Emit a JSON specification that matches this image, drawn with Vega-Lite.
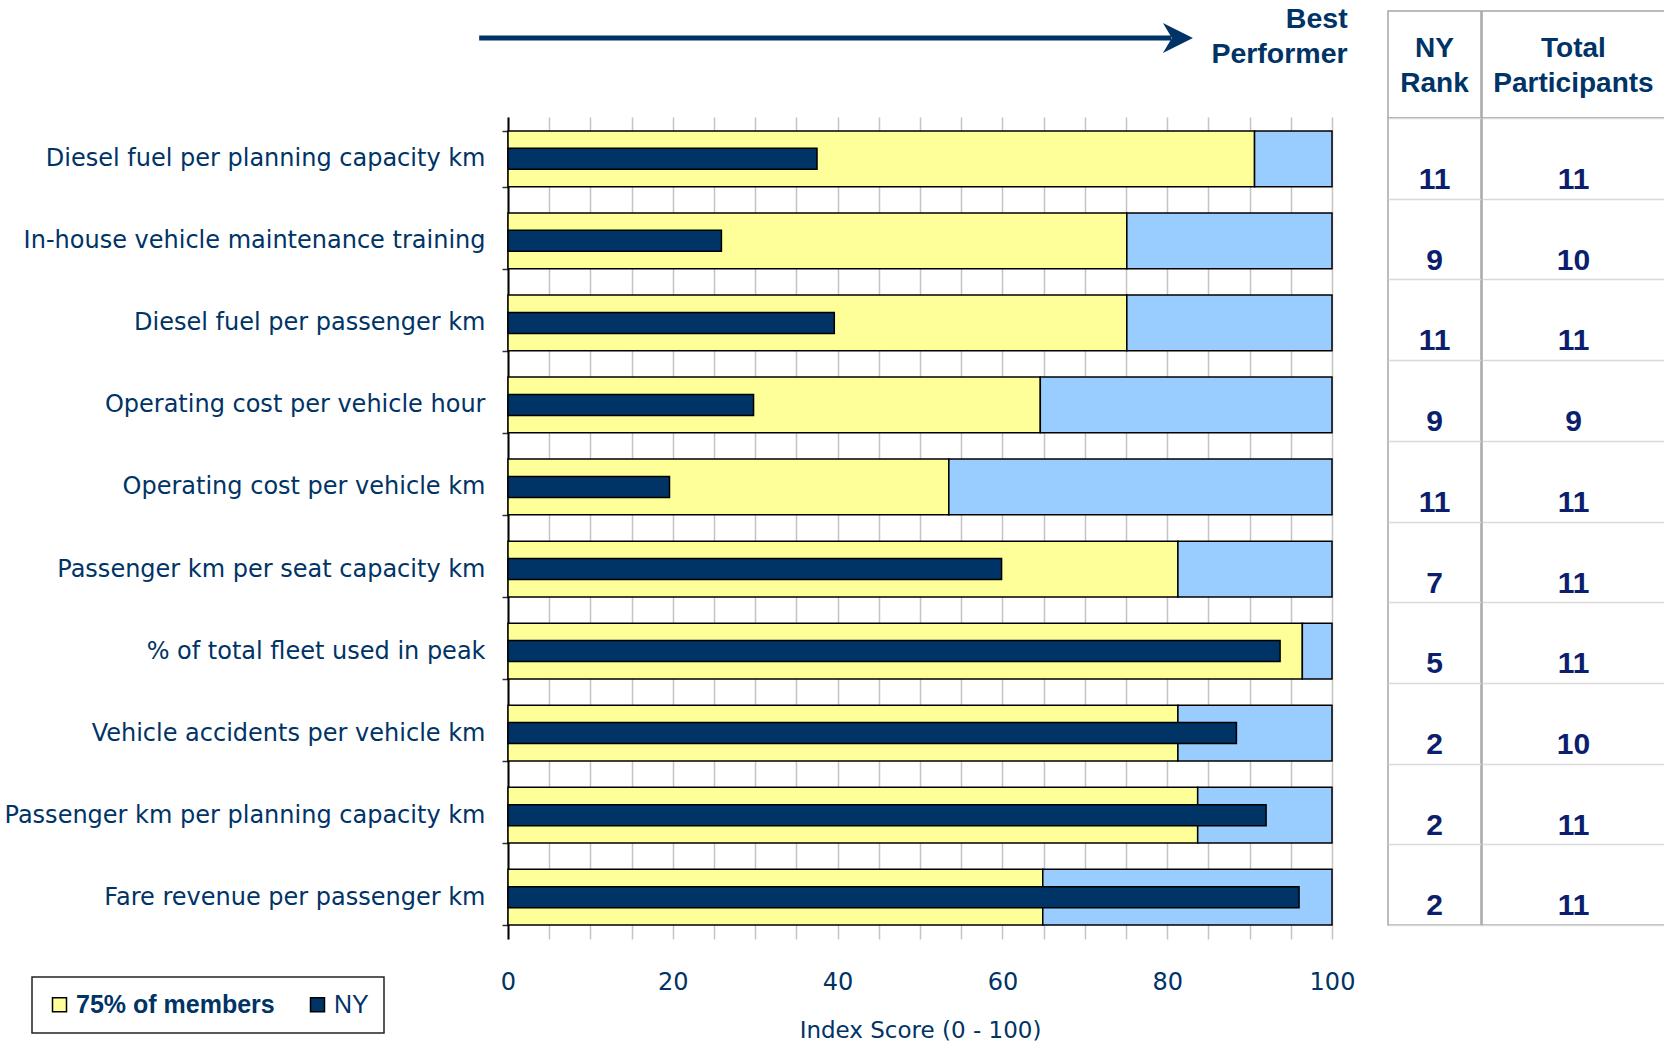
{
  "$schema": "https://vega.github.io/schema/vega-lite/v6.json",
  "background": "white",
  "padding": {"left": 4, "top": 4, "right": 0, "bottom": 0},
  "bounds": "full",
  "spacing": 32,
  "datasets": {
    "rows": [
      {"metric": "Diesel fuel per planning capacity km", "p75": 90.6, "ny": 37.5, "best": 100, "rank": 11, "total": 11},
      {"metric": "In-house vehicle maintenance training", "p75": 75.1, "ny": 25.9, "best": 100, "rank": 9, "total": 10},
      {"metric": "Diesel fuel per passenger km", "p75": 75.1, "ny": 39.6, "best": 100, "rank": 11, "total": 11},
      {"metric": "Operating cost per vehicle hour", "p75": 64.6, "ny": 29.8, "best": 100, "rank": 9, "total": 9},
      {"metric": "Operating cost per vehicle km", "p75": 53.5, "ny": 19.6, "best": 100, "rank": 11, "total": 11},
      {"metric": "Passenger km per seat capacity km", "p75": 81.3, "ny": 59.9, "best": 100, "rank": 7, "total": 11},
      {"metric": "% of total fleet used in peak", "p75": 96.4, "ny": 93.7, "best": 100, "rank": 5, "total": 11},
      {"metric": "Vehicle accidents per vehicle km", "p75": 81.3, "ny": 88.4, "best": 100, "rank": 2, "total": 10},
      {"metric": "Passenger km per planning capacity km", "p75": 83.7, "ny": 92.0, "best": 100, "rank": 2, "total": 11},
      {"metric": "Fare revenue per passenger km", "p75": 64.9, "ny": 96.0, "best": 100, "rank": 2, "total": 11}
    ]
  },
  "hconcat": [
    {
      "vconcat": [
        {
          "width": 824,
          "height": 106,
          "view": {"stroke": null},
          "data": {"values": [{}]},
          "layer": [
            {
              "mark": {"type": "rule", "color": "#003366", "strokeWidth": 5},
              "encoding": {
                "x": {"datum": -3.5, "type": "quantitative", "scale": {"domain": [0, 100], "nice": false, "zero": false}, "axis": null},
                "x2": {"datum": 80.5},
                "y": {"datum": 0.745, "type": "quantitative", "scale": {"domain": [0, 1], "nice": false}, "axis": null}
              }
            },
            {
              "mark": {"type": "point", "shape": "M-1,-1L1,0L-1,1L-0.4,0Z", "filled": true, "color": "#003366", "opacity": 1, "size": 900},
              "encoding": {
                "x": {"datum": 81.3, "type": "quantitative"},
                "y": {"datum": 0.745, "type": "quantitative"}
              }
            },
            {
              "mark": {"type": "text", "text": "Best\nPerformer", "lineBreak": "\n", "align": "right", "baseline": "alphabetic", "font": "Liberation Sans", "fontWeight": "bold", "fontSize": 28.5, "lineHeight": 35, "color": "#003366"},
              "encoding": {
                "x": {"datum": 101.9, "type": "quantitative"},
                "y": {"datum": 0.84, "type": "quantitative"}
              }
            }
          ]
        },
        {
          "width": 824,
          "height": 822,
          "view": {"stroke": null},
          "data": {"name": "rows"},
          "encoding": {
            "y": {
              "field": "metric",
              "type": "nominal",
              "sort": null,
              "scale": {"paddingInner": 0.32, "paddingOuter": 0.17},
              "axis": {
                "title": null,
                "labelFont": "DejaVu Sans",
                "labelFontSize": 24,
                "labelColor": "#003366",
                "labelPadding": 17,
                "labelLimit": 700,
                "tickBand": "extent",
                "tickSize": 6,
                "tickColor": "#333333",
                "tickWidth": 1.5,
                "domainColor": "#000000",
                "domainWidth": 2,
                "grid": false
              }
            }
          },
          "layer": [
            {
              "mark": {"type": "bar", "stroke": "#000000", "strokeWidth": 1.5},
              "encoding": {
                "x": {
                  "field": "p75",
                  "type": "quantitative",
                  "stack": null,
                  "scale": {"domain": [0, 100], "nice": false},
                  "axis": {
                    "values": [0, 5, 10, 15, 20, 25, 30, 35, 40, 45, 50, 55, 60, 65, 70, 75, 80, 85, 90, 95, 100],
                    "labelExpr": "datum.value % 20 === 0 ? datum.label : ''",
                    "labelOverlap": false,
                    "labelFlush": false,
                    "grid": true,
                    "gridColor": "#c4c4c4",
                    "gridWidth": 1.5,
                    "ticks": false,
                    "tickSize": 0,
                    "domain": false,
                    "labelFont": "DejaVu Sans",
                    "labelFontSize": 24,
                    "labelColor": "#003366",
                    "labelPadding": 31,
                    "title": "Index Score (0 - 100)",
                    "titleFont": "DejaVu Sans",
                    "titleFontSize": 23,
                    "titleFontWeight": "normal",
                    "titleColor": "#003366",
                    "titlePadding": 25
                  }
                },
                "color": {
                  "datum": "75% of members",
                  "type": "nominal",
                  "scale": {"domain": ["75% of members", "NY"], "range": ["#FFFF99", "#003366"]},
                  "legend": {
                    "title": null,
                    "orient": "none",
                    "legendX": -476,
                    "legendY": 966,
                    "direction": "horizontal",
                    "columns": 2,
                    "symbolType": "square",
                    "symbolSize": 196,
                    "symbolStrokeColor": "#000000",
                    "symbolStrokeWidth": 1.5,
                    "symbolOpacity": 1,
                    "labelFont": "Liberation Sans",
                    "labelFontSize": 25,
                    "labelColor": "#003366",
                    "labelLimit": 500,
                    "labelOffset": 4,
                    "columnPadding": 30,
                    "padding": 15,
                    "strokeColor": "#222222",
                    "fillColor": "#ffffff",
                    "encode": {
                      "labels": {"update": {"fontWeight": {"signal": "datum.label === 'NY' ? 'normal' : 'bold'"}}},
                      "legend": {"update": {"strokeWidth": {"value": 1.5}}}
                    }
                  }
                }
              }
            },
            {
              "mark": {"type": "bar", "fill": "#99CCFF", "stroke": "#000000", "strokeWidth": 1.5},
              "encoding": {
                "x": {"field": "p75", "type": "quantitative"},
                "x2": {"field": "best"}
              }
            },
            {
              "mark": {"type": "bar", "size": 21, "stroke": "#000000", "strokeWidth": 1.5},
              "encoding": {
                "x": {"field": "ny", "type": "quantitative", "stack": null},
                "color": {"datum": "NY", "type": "nominal"}
              }
            }
          ]
        }
      ],
      "spacing": 0,
      "bounds": "flush"
    },
    {
      "hconcat": [
        {
          "vconcat": [
            {
              "width": 93,
              "height": 107,
              "view": {"stroke": "#a6a6a6", "strokeWidth": 1.5},
              "data": {"values": [{}]},
              "mark": {"type": "text", "text": "NY\nRank", "lineBreak": "\n", "align": "center", "baseline": "middle", "dy": -16, "font": "Liberation Sans", "fontWeight": "bold", "fontSize": 28, "lineHeight": 35, "color": "#003366"}
            },
            {
              "width": 93,
              "height": 807,
              "view": {"stroke": "#a6a6a6", "strokeWidth": 1.5},
              "data": {"name": "rows"},
              "mark": {"type": "text", "align": "center", "baseline": "alphabetic", "font": "Liberation Sans", "fontWeight": "bold", "fontSize": 30, "color": "#0B1F6E"},
              "encoding": {
                "y": {
                  "field": "metric", "type": "nominal", "sort": null, "bandPosition": 0.88,
                  "scale": {"type": "band", "paddingInner": 0, "paddingOuter": 0},
                  "axis": {"title": null, "labels": false, "ticks": false, "domain": false, "grid": true, "tickBand": "extent", "gridColor": "#d9d9d9", "gridWidth": 1.5}
                },
                "text": {"field": "rank", "type": "quantitative"}
              }
            }
          ],
          "spacing": 0,
          "bounds": "flush"
        },
        {
          "vconcat": [
            {
              "width": 183,
              "height": 107,
              "view": {"stroke": "#a6a6a6", "strokeWidth": 1.5},
              "data": {"values": [{}]},
              "mark": {"type": "text", "text": "Total\nParticipants", "lineBreak": "\n", "align": "center", "baseline": "middle", "dy": -16, "font": "Liberation Sans", "fontWeight": "bold", "fontSize": 28, "lineHeight": 35, "color": "#003366"}
            },
            {
              "width": 183,
              "height": 807,
              "view": {"stroke": "#a6a6a6", "strokeWidth": 1.5},
              "data": {"name": "rows"},
              "mark": {"type": "text", "align": "center", "baseline": "alphabetic", "font": "Liberation Sans", "fontWeight": "bold", "fontSize": 30, "color": "#0B1F6E"},
              "encoding": {
                "y": {
                  "field": "metric", "type": "nominal", "sort": null, "bandPosition": 0.88,
                  "scale": {"type": "band", "paddingInner": 0, "paddingOuter": 0},
                  "axis": {"title": null, "labels": false, "ticks": false, "domain": false, "grid": true, "tickBand": "extent", "gridColor": "#d9d9d9", "gridWidth": 1.5}
                },
                "text": {"field": "total", "type": "quantitative"}
              }
            }
          ],
          "spacing": 0,
          "bounds": "flush"
        }
      ],
      "spacing": -1.5,
      "bounds": "full"
    }
  ],
  "config": {
    "view": {"stroke": null},
    "font": "DejaVu Sans"
  }
}
